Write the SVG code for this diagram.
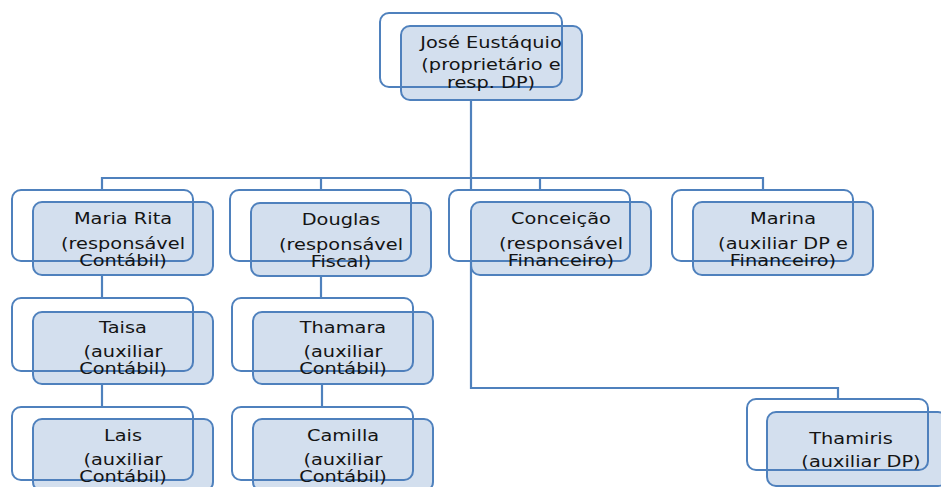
<svg xmlns="http://www.w3.org/2000/svg" width="941" height="487" viewBox="0 0 941 487">
<style>
.bk{fill:#ffffff;stroke:#4f81bd;stroke-width:2}
.fr{fill:rgba(79,129,189,0.25);stroke:#4f81bd;stroke-width:2}
.cn{fill:none;stroke:#4f81bd;stroke-width:2.2}
text{font-family:"DejaVu Sans","Liberation Sans",sans-serif;font-size:16px;fill:#141414;text-anchor:middle}
</style>
<rect width="941" height="487" fill="#ffffff"/>
<g id="connectors">
<path class="cn" d="M471,100 V388 H838 V400"/>
<path class="cn" d="M102,190 V178 H763 V190"/>
<path class="cn" d="M321,178 V190"/>
<path class="cn" d="M540,178 V190"/>
<path class="cn" d="M102,274 V298"/>
<path class="cn" d="M102,384 V407"/>
<path class="cn" d="M321,276 V298"/>
<path class="cn" d="M322,384 V407"/>
</g>
<g id="jose">
<rect class="bk" x="380" y="13" width="182" height="74" rx="9"/>
<rect class="fr" x="401" y="26" width="181" height="74" rx="9"/>
<text transform="translate(491 48) scale(1.21 1)">José Eustáquio</text>
<text transform="translate(491 70) scale(1.21 1)">(proprietário e</text>
<text transform="translate(491 88) scale(1.21 1)">resp. DP)</text>
</g>
<g id="maria-rita">
<rect class="bk" x="12" y="190" width="181" height="71" rx="9"/>
<rect class="fr" x="33" y="202" width="180" height="73" rx="9"/>
<text transform="translate(123 224) scale(1.21 1)">Maria Rita</text>
<text transform="translate(123 249) scale(1.21 1)">(responsável</text>
<text transform="translate(123 266) scale(1.21 1)">Contábil)</text>
</g>
<g id="douglas">
<rect class="bk" x="230" y="190" width="181" height="71" rx="9"/>
<rect class="fr" x="251" y="203" width="180" height="73" rx="9"/>
<text transform="translate(341 225) scale(1.21 1)">Douglas</text>
<text transform="translate(341 250) scale(1.21 1)">(responsável</text>
<text transform="translate(341 267) scale(1.21 1)">Fiscal)</text>
</g>
<g id="conceicao">
<rect class="bk" x="449" y="190" width="181" height="71" rx="9"/>
<rect class="fr" x="471" y="202" width="180" height="73" rx="9"/>
<text transform="translate(561 224) scale(1.21 1)">Conceição</text>
<text transform="translate(561 249) scale(1.21 1)">(responsável</text>
<text transform="translate(561 266) scale(1.21 1)">Financeiro)</text>
</g>
<g id="marina">
<rect class="bk" x="672" y="190" width="181" height="71" rx="9"/>
<rect class="fr" x="693" y="202" width="180" height="73" rx="9"/>
<text transform="translate(783 224) scale(1.21 1)">Marina</text>
<text transform="translate(783 249) scale(1.21 1)">(auxiliar DP e</text>
<text transform="translate(783 266) scale(1.21 1)">Financeiro)</text>
</g>
<g id="taisa">
<rect class="bk" x="12" y="298" width="181" height="73" rx="9"/>
<rect class="fr" x="33" y="312" width="180" height="72" rx="9"/>
<text transform="translate(123 333) scale(1.21 1)">Taisa</text>
<text transform="translate(123 357) scale(1.21 1)">(auxiliar</text>
<text transform="translate(123 374) scale(1.21 1)">Contábil)</text>
</g>
<g id="thamara">
<rect class="bk" x="232" y="298" width="181" height="73" rx="9"/>
<rect class="fr" x="253" y="312" width="180" height="72" rx="9"/>
<text transform="translate(343 333) scale(1.21 1)">Thamara</text>
<text transform="translate(343 357) scale(1.21 1)">(auxiliar</text>
<text transform="translate(343 374) scale(1.21 1)">Contábil)</text>
</g>
<g id="lais">
<rect class="bk" x="12" y="407" width="181" height="73" rx="9"/>
<rect class="fr" x="33" y="419" width="180" height="72" rx="9"/>
<text transform="translate(123 441) scale(1.21 1)">Lais</text>
<text transform="translate(123 465) scale(1.21 1)">(auxiliar</text>
<text transform="translate(123 482) scale(1.21 1)">Contábil)</text>
</g>
<g id="camilla">
<rect class="bk" x="232" y="407" width="181" height="73" rx="9"/>
<rect class="fr" x="253" y="419" width="180" height="72" rx="9"/>
<text transform="translate(343 441) scale(1.21 1)">Camilla</text>
<text transform="translate(343 465) scale(1.21 1)">(auxiliar</text>
<text transform="translate(343 482) scale(1.21 1)">Contábil)</text>
</g>
<g id="thamiris">
<rect class="bk" x="747" y="399" width="181" height="71" rx="9"/>
<rect class="fr" x="767" y="412" width="180" height="74" rx="9"/>
<text transform="translate(851 444) scale(1.21 1)">Thamiris</text>
<text transform="translate(861 467) scale(1.21 1)">(auxiliar DP)</text>
</g>
</svg>
